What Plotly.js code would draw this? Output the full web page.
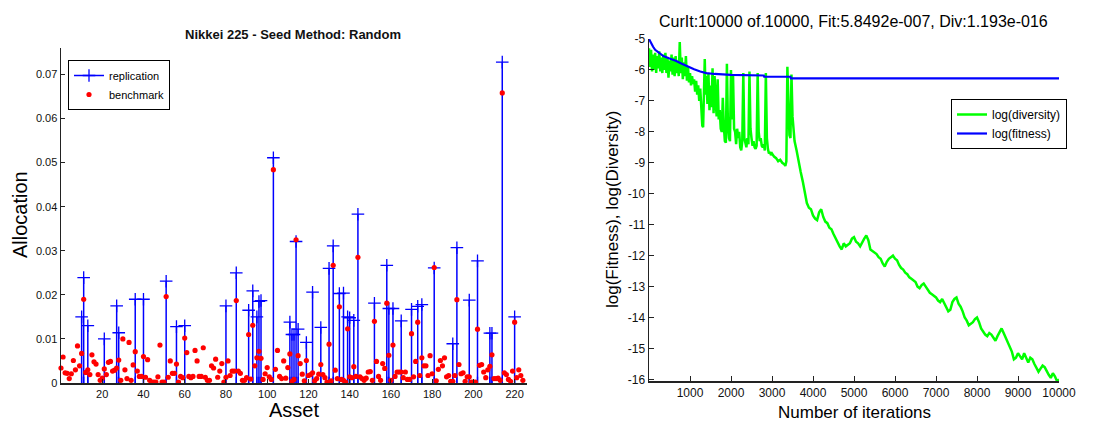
<!DOCTYPE html>
<html>
<head>
<meta charset="utf-8">
<script src="https://cdn.plot.ly/plotly-3.0.1.min.js"></script>
<style>
  html, body { margin: 0; padding: 0; background: #fff; }
  #chart { width: 1114px; height: 423px; }
</style>
</head>
<body>
<div id="chart"></div>
<script>
// ---------------- Left chart data ----------------
const benchmark = [
  0.0034, 0.0059, 0.0023, 0.0022, 0.0010, 0.0021, 0.0051, 0.0030, 0.0084, 0.0039,
  0.0067, 0.0190, 0.0024, 0.0030, 0.0019, 0.0064, 0.0048, 0.0043, 0.0019, 0.0006,
  0.0011, 0.0032, 0.0019, 0.0047, 0.0049, 0.0027, 0.0029, 0.0034, 0.0052, 0.0006,
  0.0100, 0.0030, 0.0010, 0.0092, 0.0006, 0.0041, 0.0071, 0.0027, 0.0015, 0.0015,
  0.0060, 0.0013, 0.0053, 0.0006, 0.0002, 0.0002, 0.0002, 0.0014, 0.0086, 0.0002,
  0.0002, 0.0196, 0.0013, 0.0050, 0.0022, 0.0022, 0.0043, 0.0002, 0.0015, 0.0012,
  0.0102, 0.0069, 0.0015, 0.0012, 0.0015, 0.0074, 0.0050, 0.0015, 0.0015, 0.0080,
  0.0013, 0.0006, 0.0006, 0.0039, 0.0034, 0.0054, 0.0013, 0.0027, 0.0044, 0.0002,
  0.0013, 0.0050, 0.0017, 0.0027, 0.0027, 0.0187, 0.0027, 0.0022, 0.0006, 0.0006,
  0.0012, 0.0110, 0.0009, 0.0131, 0.0039, 0.0057, 0.0072, 0.0056, 0.0008, 0.0021,
  0.0035, 0.0014, 0.0008, 0.0484, 0.0031, 0.0074, 0.0015, 0.0010, 0.0050, 0.0011,
  0.0035, 0.0066, 0.0004, 0.0008, 0.0325, 0.0062, 0.0044, 0.0020, 0.0005, 0.0051,
  0.0017, 0.0019, 0.0023, 0.0005, 0.0010, 0.0020, 0.0042, 0.0019, 0.0012, 0.0002,
  0.0088, 0.0005, 0.0267, 0.0029, 0.0010, 0.0173, 0.0008, 0.0006, 0.0002, 0.0123,
  0.0014, 0.0012, 0.0037, 0.0015, 0.0285, 0.0014, 0.0010, 0.0006, 0.0011, 0.0025,
  0.0026, 0.0006, 0.0140, 0.0049, 0.0015, 0.0006, 0.0044, 0.0033, 0.0181, 0.0063,
  0.0006, 0.0086, 0.0015, 0.0025, 0.0025, 0.0025, 0.0012, 0.0025, 0.0008, 0.0008,
  0.0112, 0.0014, 0.0049, 0.0138, 0.0017, 0.0057, 0.0039, 0.0039, 0.0017, 0.0062,
  0.0021, 0.0262, 0.0005, 0.0031, 0.0051, 0.0039, 0.0057, 0.0014, 0.0017, 0.0004,
  0.0004, 0.0017, 0.0189, 0.0042, 0.0021, 0.0023, 0.0004, 0.0014, 0.0014, 0.0002,
  0.0002, 0.0002, 0.0122, 0.0040, 0.0042, 0.0025, 0.0012, 0.0030, 0.0038, 0.0064,
  0.0010, 0.0010, 0.0011, 0.0006, 0.0658, 0.0023, 0.0019, 0.0008, 0.0004, 0.0027,
  0.0138, 0.0012, 0.0030, 0.0017, 0.0006
];
const repAsset = [10, 11, 13, 21, 27, 28, 36, 40, 51, 56, 60, 80, 85, 91, 93, 95, 96, 97,
  103, 111, 112, 113, 114, 115, 119, 122, 126, 130, 132, 135, 137, 139, 140, 142, 144,
  152, 158, 159, 161, 165, 170, 173, 175, 181, 190, 192, 198, 202, 208, 209, 214, 220];
const repAlloc = [0.0150, 0.0239, 0.0130, 0.0100, 0.0175, 0.0114, 0.0190, 0.0190, 0.0231,
  0.0128, 0.0130, 0.0175, 0.0250, 0.0165, 0.0209, 0.0150, 0.0185, 0.0187,
  0.0511, 0.0138, 0.0110, 0.0110, 0.0321, 0.0122, 0.0092, 0.0206, 0.0126, 0.0260, 0.0311,
  0.0203, 0.0204, 0.0150, 0.0148, 0.0142, 0.0383,
  0.0181, 0.0267, 0.0169, 0.0169, 0.0141, 0.0167, 0.0174, 0.0178, 0.0261, 0.0089, 0.0307,
  0.0188, 0.0277, 0.0113, 0.0113, 0.0728, 0.0150];
const leftXTicks = [20, 40, 60, 80, 100, 120, 140, 160, 180, 200, 220];
const leftYTicks = [0, 0.01, 0.02, 0.03, 0.04, 0.05, 0.06, 0.07];

// ---------------- Right chart data ----------------
const divIter = [0,25,50,75,100,125,150,175,200,225,250,275,300,325,350,375,400,425,450,475,
  500,525,550,575,600,625,650,675,700,725,750,775,800,825,850,875,900,925,950,975,
  1000,1025,1050,1075,1100,1125,1150,1175,1200,1225,1250,1275,1300,1320,1340,1360,1380,1400,1425,1450,
  1475,1500,1525,1550,1575,1600,1625,1650,1675,1700,1725,1750,1775,1800,1825,1850,1875,1900,1925,1950,
  1975,2000,2025,2050,2075,2100,2125,2150,2175,2200,2225,2250,2275,2300,2325,2350,2375,2400,2425,2450,
  2475,2500,2525,2550,2575,2600,2625,2650,2675,2700,2725,2750,2775,2800,2825,2850,2875,2900,2925,2950,
  2975,3000,3050,3100,3150,3200,3250,3300,3325,3350,3375,3400,3425,3450,3475,3500,3525,3550,3600,3650,
  3700,3750,3800,3850,3900,3950,4000,4050,4100,4150,4200,4250,4300,4350,4400,4450,4500,4550,4600,4650,
  4700,4750,4800,4850,4900,4950,5000,5050,5100,5150,5200,5250,5300,5350,5400,5450,5500,5550,5600,5650,
  5700,5750,5800,5850,5900,5950,6000,6050,6100,6150,6200,6250,6300,6350,6400,6450,6500,6550,6600,6650,
  6700,6750,6800,6850,6900,6950,7000,7050,7100,7150,7200,7250,7300,7350,7400,7450,7500,7550,7600,7650,
  7700,7750,7800,7850,7900,7950,8000,8050,8100,8150,8200,8250,8300,8350,8400,8450,8500,8550,8600,8650,
  8700,8750,8800,8850,8900,8950,9000,9050,9100,9150,9200,9250,9300,9350,9400,9450,9500,9550,9600,9650,
  9700,9750,9800,9850,9900,9950,10000];
const divLog = [-5.3,-5.9,-5.35,-6.05,-5.5,-6.0,-5.45,-6.1,-5.55,-5.95,-5.4,-6.05,-5.6,-6.1,-5.5,-6.0,-5.45,-6.1,-5.6,-6.25,
  -5.7,-6.05,-5.5,-6.15,-5.6,-6.2,-5.55,-6.1,-5.7,-6.2,-5.1,-6.1,-5.6,-6.3,-5.75,-6.2,-5.55,-6.35,-5.9,-6.4,
  -6.1,-6.5,-6.2,-6.45,-6.3,-6.7,-6.35,-6.8,-6.5,-7.0,-6.6,-7.3,-7.8,-7.85,-6.9,-5.65,-6.8,-6.2,-7.1,-6.1,
  -7.3,-6.5,-7.2,-5.95,-7.4,-6.2,-7.0,-7.5,-6.3,-7.6,-7.3,-7.9,-8.0,-6.9,-7.8,-8.3,-8.35,-5.8,-7.8,-8.2,
  -8.3,-6.0,-7.6,-6.2,-7.9,-8.0,-8.4,-7.9,-8.2,-8.0,-8.5,-8.6,-8.3,-6.1,-8.2,-8.35,-8.5,-8.2,-8.4,-6.05,
  -7.9,-8.2,-8.45,-8.3,-8.5,-8.55,-8.45,-6.1,-8.0,-8.3,-8.2,-8.45,-8.5,-8.4,-8.6,-6.1,-8.2,-8.55,-8.7,-8.65,
  -8.75,-8.7,-8.8,-8.85,-8.95,-8.9,-9.0,-9.05,-9.1,-8.95,-5.9,-7.0,-8.1,-8.2,-6.15,-7.5,-8.1,-8.3,-8.6,-9.0,
  -9.3,-9.6,-10.0,-10.3,-10.45,-10.5,-10.7,-10.8,-10.85,-10.6,-10.5,-10.75,-10.9,-10.95,-11.1,-11.15,-11.3,-11.45,-11.55,-11.7,
  -11.8,-11.6,-11.7,-11.65,-11.6,-11.45,-11.4,-11.55,-11.6,-11.7,-11.55,-11.45,-11.35,-11.5,-11.8,-11.85,-11.9,-11.95,-12.05,-12.1,
  -12.25,-12.35,-12.2,-12.1,-12.05,-12.0,-12.1,-12.15,-12.3,-12.4,-12.45,-12.55,-12.6,-12.7,-12.75,-12.8,-12.85,-13.0,-13.05,-12.95,
  -12.9,-13.0,-13.1,-13.2,-13.25,-13.3,-13.35,-13.45,-13.5,-13.4,-13.55,-13.7,-13.8,-13.75,-13.5,-13.4,-13.35,-13.55,-13.65,-13.8,
  -14.0,-14.1,-14.25,-14.2,-14.15,-14.05,-14.0,-14.15,-14.35,-14.45,-14.55,-14.6,-14.5,-14.55,-14.65,-14.75,-14.6,-14.45,-14.35,-14.5,
  -14.65,-14.85,-14.95,-15.1,-15.35,-15.3,-15.15,-15.25,-15.35,-15.15,-15.3,-15.45,-15.3,-15.35,-15.5,-15.65,-15.75,-15.65,-15.55,-15.6,
  -15.75,-15.85,-15.95,-15.8,-15.9,-16.05,-16.0];
const fitIter = [0, 50, 100, 150, 250, 350, 500, 650, 800, 950, 1100, 1250, 1400, 1600, 2000, 2800, 2810, 3450, 3460, 10000];
const fitLog = [-5.0, -5.15, -5.25, -5.35, -5.45, -5.55, -5.63, -5.7, -5.8, -5.9, -5.98, -6.05, -6.1, -6.13, -6.16, -6.18, -6.22, -6.22, -6.27, -6.27];
const rightXTicks = [1000, 2000, 3000, 4000, 5000, 6000, 7000, 8000, 9000, 10000];
const rightXTickText = ['1000', '2000', '3000', '4000', '5000', '6000', '7000', '8000', '9000', '10000'];
const rightYTicks = [-16, -15, -14, -13, -12, -11, -10, -9, -8, -7, -6, -5];
const rightYTickText = ['-16', '-15', '-14', '-13', '-12', '-11', '-10', '-9', '-8', '-7', '-6', '-5'];

// ---------------- Build traces ----------------
const assetIdx = benchmark.map((_, i) => i);
const stemX = [], stemY = [], stemSym = [];
repAsset.forEach((a, i) => {
  stemX.push(a, a, null);
  stemY.push(repAlloc[i], 0, null);
  stemSym.push('cross-thin', 'line-ns', 'line-ns');
});

const FONT = 'Liberation Sans, Arial, sans-serif';
const W = 1114, H = 423;
const px = v => v / W;
const py = v => 1 - v / H;

const traces = [
  {
    name: 'replication', x: stemX, y: stemY, xaxis: 'x', yaxis: 'y',
    mode: 'lines+markers', connectgaps: false,
    line: { color: '#0000ff', width: 1.5 },
    marker: { symbol: stemSym, size: 9, color: '#0000ff', line: { color: '#0000ff', width: 1.3 } },
    legend: 'legend', hoverinfo: 'skip'
  },
  {
    name: 'benchmark', x: assetIdx, y: benchmark, xaxis: 'x', yaxis: 'y',
    mode: 'markers', cliponaxis: false,
    marker: { symbol: 'circle', size: 5.2, color: '#ff0000' },
    legend: 'legend'
  },
  {
    name: 'log(diversity)', x: divIter, y: divLog, xaxis: 'x2', yaxis: 'y2',
    mode: 'lines', line: { color: '#00ff00', width: 2.5 },
    legend: 'legend2'
  },
  {
    name: 'log(fitness)', x: fitIter, y: fitLog, xaxis: 'x2', yaxis: 'y2',
    mode: 'lines', line: { color: '#0000ff', width: 2.2 },
    legend: 'legend2'
  }
];

const axisCommon = {
  showgrid: false, zeroline: false, showline: true, linecolor: '#222', linewidth: 1.5,
  ticks: 'inside', tickcolor: '#222', mirror: false, fixedrange: true,
  tickfont: { family: FONT, color: '#111' }
};

const layout = {
  width: W, height: H,
  margin: { l: 0, r: 0, t: 0, b: 0 },
  paper_bgcolor: '#fff', plot_bgcolor: '#fff',
  font: { family: FONT, color: '#000' },
  xaxis: Object.assign({}, axisCommon, {
    domain: [px(61), px(527)], range: [0, 226], anchor: 'y',
    tickmode: 'array', tickvals: leftXTicks, ticklen: 4, tickfont: { family: FONT, size: 11, color: '#111' }
  }),
  yaxis: Object.assign({}, axisCommon, {
    domain: [py(383), py(48)], range: [0, 0.076], anchor: 'x',
    tickmode: 'array', tickvals: leftYTicks, ticklen: 4, tickfont: { family: FONT, size: 11, color: '#111' }
  }),
  xaxis2: Object.assign({}, axisCommon, {
    domain: [px(649), px(1059)], range: [0, 10000], anchor: 'y2',
    tickmode: 'array', tickvals: rightXTicks, ticktext: rightXTickText, ticklen: 5,
    tickfont: { family: FONT, size: 12, color: '#111' }
  }),
  yaxis2: Object.assign({}, axisCommon, {
    domain: [py(381), py(39)], range: [-16.05, -5], anchor: 'x2',
    tickmode: 'array', tickvals: rightYTicks, ticktext: rightYTickText, ticklen: 5,
    tickfont: { family: FONT, size: 12, color: '#111' }
  }),
  legend: {
    x: px(68), y: py(60), xanchor: 'left', yanchor: 'top',
    bgcolor: '#fff', bordercolor: '#000', borderwidth: 1,
    font: { family: FONT, size: 11, color: '#000' }, tracegroupgap: 0, itemwidth: 30
  },
  legend2: {
    x: px(951), y: py(99), xanchor: 'left', yanchor: 'top',
    bgcolor: '#fff', bordercolor: '#000', borderwidth: 1,
    font: { family: FONT, size: 12, color: '#000' }, tracegroupgap: 0, itemwidth: 30
  },
  showlegend: true,
  annotations: [
    { text: 'Nikkei 225 - Seed Method: Random', xref: 'paper', yref: 'paper', x: px(293), y: py(34),
      xanchor: 'center', yanchor: 'middle', showarrow: false,
      font: { family: FONT, size: 13, weight: 'bold', color: '#111' } },
    { text: 'CurIt:10000 of.10000, Fit:5.8492e-007, Div:1.193e-016', xref: 'paper', yref: 'paper',
      x: px(853), y: py(22), xanchor: 'center', yanchor: 'middle', showarrow: false,
      font: { family: FONT, size: 16, color: '#000' } },
    { text: 'Allocation', xref: 'paper', yref: 'paper', x: px(20), y: py(215), textangle: -90,
      xanchor: 'center', yanchor: 'middle', showarrow: false,
      font: { family: FONT, size: 20, color: '#000' } },
    { text: 'Asset', xref: 'paper', yref: 'paper', x: px(294), y: py(410),
      xanchor: 'center', yanchor: 'middle', showarrow: false,
      font: { family: FONT, size: 20, color: '#000' } },
    { text: 'log(Fitness), log(Diversity)', xref: 'paper', yref: 'paper', x: px(612), y: py(210), textangle: -90,
      xanchor: 'center', yanchor: 'middle', showarrow: false,
      font: { family: FONT, size: 17, color: '#000' } },
    { text: 'Number of iterations', xref: 'paper', yref: 'paper', x: px(854), y: py(412),
      xanchor: 'center', yanchor: 'middle', showarrow: false,
      font: { family: FONT, size: 17, color: '#000' } }
  ]
};

Plotly.newPlot('chart', traces, layout, { staticPlot: true, displayModeBar: false });
</script>
</body>
</html>
